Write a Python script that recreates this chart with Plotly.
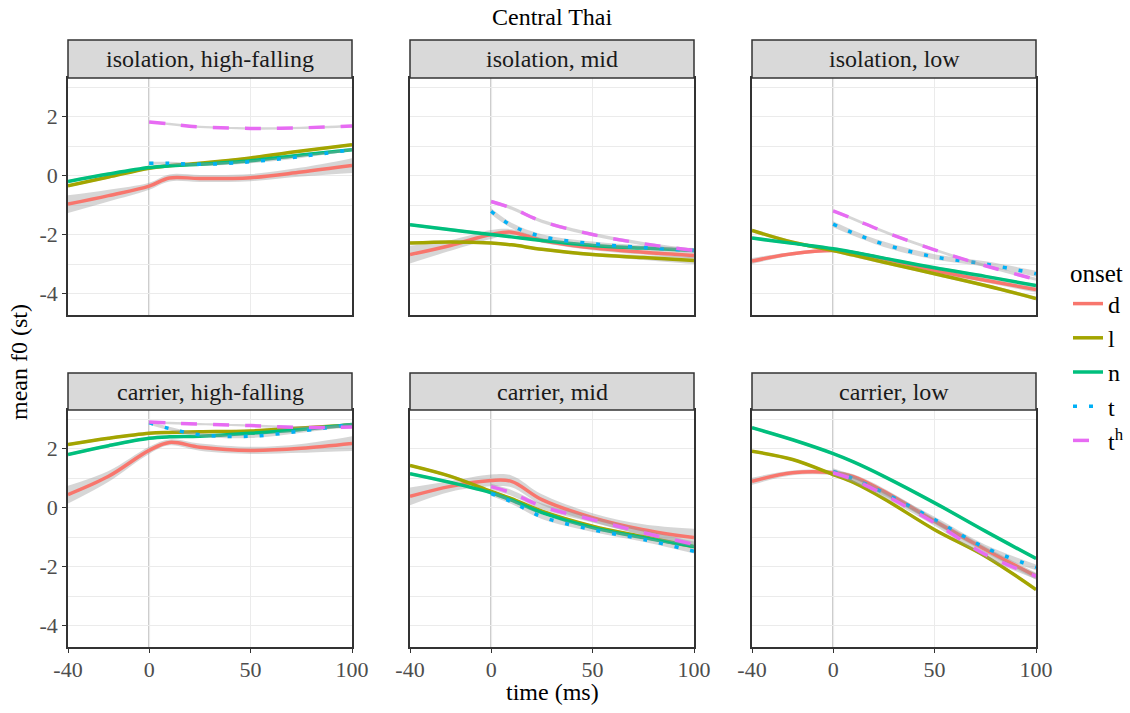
import plotly.graph_objects as go

# ---------------- data ----------------
X_FULL = [-40, -20, 0, 10, 25, 50, 75, 100]   # d, l, n
X_POST = [0, 10, 25, 50, 75, 100]             # t, th

ONSETS = ["d", "l", "n", "t", "th"]
ONSET_LABELS = ["d", "l", "n", "t", "t<sup>h</sup>"]

PANEL_TITLES = ["isolation, high-falling", "isolation, mid", "isolation, low",
                "carrier, high-falling", "carrier, mid", "carrier, low"]

X_TICKS = [-40, 0, 50, 100]
Y_TICKS = [-4, -2, 0, 2]
Y_MINOR = [-3, -1, 1, 3]

# mean f0 (st), one dict per panel
iso_hf = {
    "d": [-0.97, -0.68, -0.36, -0.08, -0.10, -0.07, 0.12, 0.34],
    "l": [-0.35, -0.05, 0.25, 0.33, 0.42, 0.60, 0.83, 1.05],
    "n": [-0.20, 0.05, 0.27, 0.33, 0.38, 0.50, 0.70, 0.88],
    "t": [0.42, 0.42, 0.38, 0.47, 0.65, 0.88],
    "th": [1.82, 1.75, 1.65, 1.60, 1.62, 1.68],
}
iso_mid = {
    "d": [-2.68, -2.37, -2.00, -1.92, -2.20, -2.45, -2.60, -2.71],
    "l": [-2.29, -2.25, -2.29, -2.35, -2.50, -2.68, -2.78, -2.88],
    "n": [-1.67, -1.84, -2.00, -2.08, -2.20, -2.37, -2.46, -2.54],
    "t": [-1.21, -1.69, -2.07, -2.31, -2.44, -2.54],
    "th": [-0.88, -1.10, -1.55, -2.00, -2.31, -2.54],
}
iso_low = {
    "d": [-2.90, -2.65, -2.54, -2.62, -2.82, -3.22, -3.55, -3.87],
    "l": [-1.86, -2.26, -2.54, -2.70, -2.94, -3.33, -3.73, -4.17],
    "n": [-2.12, -2.30, -2.48, -2.60, -2.80, -3.13, -3.42, -3.73],
    "t": [-1.65, -1.95, -2.33, -2.76, -3.00, -3.33],
    "th": [-1.20, -1.47, -1.90, -2.52, -3.06, -3.52],
}
car_hf = {
    "d": [0.44, 1.06, 1.94, 2.21, 2.05, 1.94, 2.01, 2.17],
    "l": [2.14, 2.35, 2.52, 2.55, 2.57, 2.60, 2.70, 2.80],
    "n": [1.80, 2.10, 2.35, 2.40, 2.42, 2.52, 2.65, 2.82],
    "t": [2.88, 2.68, 2.47, 2.42, 2.60, 2.82],
    "th": [2.90, 2.87, 2.83, 2.78, 2.72, 2.73],
}
car_mid = {
    "d": [0.38, 0.72, 0.92, 0.89, 0.27, -0.34, -0.75, -1.02],
    "l": [1.43, 1.06, 0.55, 0.30, -0.12, -0.63, -0.99, -1.33],
    "n": [1.15, 0.85, 0.50, 0.25, -0.17, -0.68, -1.02, -1.32],
    "t": [0.47, 0.20, -0.31, -0.75, -1.08, -1.48],
    "th": [0.71, 0.50, 0.04, -0.41, -0.85, -1.25],
}
car_low = {
    "d": [0.89, 1.18, 1.18, 1.05, 0.55, -0.46, -1.42, -2.33],
    "l": [1.91, 1.63, 1.12, 0.85, 0.30, -0.75, -1.65, -2.78],
    "n": [2.71, 2.30, 1.83, 1.55, 1.06, 0.16, -0.80, -1.73],
    "t": [1.23, 0.98, 0.50, -0.41, -1.36, -2.03],
    "th": [1.18, 0.95, 0.44, -0.52, -1.59, -2.33],
}

# confidence-band half widths (st)
iso_hf_se = {
    "d": [0.30, 0.20, 0.12, 0.12, 0.12, 0.12, 0.15, 0.25],
    "l": [0.05] * 8, "n": [0.05] * 8,
    "t": [0.05] * 6, "th": [0.04] * 6,
}
iso_mid_se = {
    "d": [0.30, 0.18, 0.15, 0.10, 0.08, 0.08, 0.08, 0.10],
    "l": [0.05, 0.05, 0.05, 0.05, 0.05, 0.06, 0.08, 0.12],
    "n": [0.05] * 8,
    "t": [0.10, 0.09, 0.08, 0.07, 0.07, 0.08],
    "th": [0.06] * 6,
}
iso_low_se = {
    "d": [0.10, 0.06, 0.06, 0.06, 0.06, 0.08, 0.08, 0.10],
    "l": [0.06] * 8, "n": [0.05] * 8,
    "t": [0.10, 0.09, 0.09, 0.09, 0.09, 0.10],
    "th": [0.05] * 6,
}
car_hf_se = {
    "d": [0.30, 0.18, 0.12, 0.10, 0.12, 0.12, 0.15, 0.25],
    "l": [0.05] * 8, "n": [0.05] * 8,
    "t": [0.06] * 6, "th": [0.04] * 6,
}
car_mid_se = {
    "d": [0.30, 0.18, 0.20, 0.20, 0.18, 0.15, 0.18, 0.30],
    "l": [0.05] * 8, "n": [0.05] * 8,
    "t": [0.08] * 6, "th": [0.10] * 6,
}
car_low_se = {
    "d": [0.12, 0.08, 0.08, 0.08, 0.10, 0.10, 0.10, 0.12],
    "l": [0.05] * 8, "n": [0.05] * 8,
    "t": [0.10] * 6, "th": [0.10] * 6,
}

PANEL_DATA = [iso_hf, iso_mid, iso_low, car_hf, car_mid, car_low]
PANEL_SE = [iso_hf_se, iso_mid_se, iso_low_se, car_hf_se, car_mid_se, car_low_se]

# ---------------- style ----------------
COLORS = {"d": "#F8766D", "l": "#A3A500", "n": "#00BF7D", "t": "#00B0F6", "th": "#E76BF3"}
DASHES = {"d": "solid", "l": "solid", "n": "solid", "t": "4px,12px", "th": "16px,16px"}
FONT = "Liberation Serif"
W, H = 1130, 713
COL_X = [(68, 352), (410, 694), (752, 1036)]
ROW_Y = [(78, 315), (410, 647)]
STRIP_Y = [(40, 78), (373, 410)]
Y_RANGE = [-4.73, 3.31]
X_RANGE = [-40, 100]


def px_x(v):
    return v / W


def px_y(v):
    return 1 - v / H


fig = go.Figure()
shapes = []
annotations = []

for i, (title, data, se) in enumerate(zip(PANEL_TITLES, PANEL_DATA, PANEL_SE)):
    row, col = divmod(i, 3)
    xa = "x" if i == 0 else f"x{i + 1}"
    ya = "y" if i == 0 else f"y{i + 1}"
    for onset, label in zip(ONSETS, ONSET_LABELS):
        ys = data[onset]
        xs = X_FULL if len(ys) == len(X_FULL) else X_POST
        lo = [y - s for y, s in zip(ys, se[onset])]
        hi = [y + s for y, s in zip(ys, se[onset])]
        fig.add_trace(go.Scatter(x=xs, y=lo, xaxis=xa, yaxis=ya, mode="lines",
                                 line=dict(width=0, shape="spline", smoothing=1.0),
                                 hoverinfo="skip", showlegend=False, legendgroup=onset))
        fig.add_trace(go.Scatter(x=xs, y=hi, xaxis=xa, yaxis=ya, mode="lines",
                                 line=dict(width=0, shape="spline", smoothing=1.0),
                                 fill="tonexty", fillcolor="rgba(153,153,153,0.4)",
                                 hoverinfo="skip", showlegend=False, legendgroup=onset))
        fig.add_trace(go.Scatter(x=xs, y=ys, xaxis=xa, yaxis=ya, mode="lines",
                                 name=label, legendgroup=onset, showlegend=(i == 0),
                                 line=dict(color=COLORS[onset], width=3.5, dash=DASHES[onset],
                                           shape="spline", smoothing=1.0)))

    x0, x1 = COL_X[col]
    y0, y1 = ROW_Y[row]
    axis_common = dict(showline=True, mirror=True, linecolor="#333333", linewidth=1.5,
                       zeroline=False, gridcolor="#EBEBEB", gridwidth=1.2, automargin=False,
                       ticks="outside", ticklen=4, tickcolor="#333333", tickwidth=1.2,
                       tickfont=dict(family=FONT, size=22, color="#4D4D4D"))
    xaxis = dict(axis_common, domain=[px_x(x0), px_x(x1)], range=X_RANGE,
                 tickvals=X_TICKS, ticktext=[str(v) for v in X_TICKS],
                 anchor=ya, ticklabelstandoff=-2)
    yaxis = dict(axis_common, domain=[px_y(y1), px_y(y0)], range=Y_RANGE,
                 tickvals=Y_TICKS, ticktext=[str(v) for v in Y_TICKS], anchor=xa,
                 minor=dict(tickvals=Y_MINOR, showgrid=True, gridcolor="#EBEBEB",
                            gridwidth=0.6, ticks=""))
    if row == 0:
        xaxis.update(ticks="", showticklabels=False)
    if col != 0:
        yaxis.update(ticks="", showticklabels=False)
    key = "" if i == 0 else str(i + 1)
    fig.layout["xaxis" + key] = xaxis
    fig.layout["yaxis" + key] = yaxis

    # vertical reference line at onset (t = 0)
    shapes.append(dict(type="line", xref=xa, yref=f"{ya} domain", x0=0, x1=0, y0=0, y1=1,
                       line=dict(color="#BEBEBE", width=1.8), layer="below"))
    # facet strip
    sy0, sy1 = STRIP_Y[row]
    shapes.append(dict(type="rect", xref="paper", yref="paper",
                       x0=px_x(x0), x1=px_x(x1), y0=px_y(sy1), y1=px_y(sy0),
                       fillcolor="#D9D9D9", line=dict(color="#333333", width=1.5), layer="above"))
    annotations.append(dict(text=title, xref="paper", yref="paper",
                            x=px_x((x0 + x1) / 2), y=px_y((sy0 + sy1) / 2),
                            xanchor="center", yanchor="middle", showarrow=False,
                            font=dict(family=FONT, size=24, color="#1A1A1A")))

annotations += [
    dict(text="Central Thai", xref="paper", yref="paper", x=px_x(552), y=px_y(17),
         xanchor="center", yanchor="middle", showarrow=False,
         font=dict(family=FONT, size=24, color="black")),
    dict(text="time (ms)", xref="paper", yref="paper", x=px_x(552), y=px_y(692),
         xanchor="center", yanchor="middle", showarrow=False,
         font=dict(family=FONT, size=24, color="black")),
    dict(text="mean f0 (st)", xref="paper", yref="paper", x=px_x(19), y=px_y(362),
         xanchor="center", yanchor="middle", showarrow=False, textangle=-90,
         font=dict(family=FONT, size=24, color="black")),
]

fig.update_layout(
    width=W, height=H,
    margin=dict(l=0, r=0, t=0, b=0),
    paper_bgcolor="white", plot_bgcolor="white",
    shapes=shapes, annotations=annotations,
    showlegend=True,
    legend=dict(x=px_x(1068), y=px_y(249), xanchor="left", yanchor="top",
                title=dict(text="onset", font=dict(family=FONT, size=25, color="black")),
                font=dict(family=FONT, size=24, color="black"),
                tracegroupgap=0, bgcolor="rgba(0,0,0,0)"),
)

# remove the default 8px page margin so the figure fills the window exactly
fig.write_html("out.html", config={"displayModeBar": False},
               post_script="document.body.style.margin='0';")
